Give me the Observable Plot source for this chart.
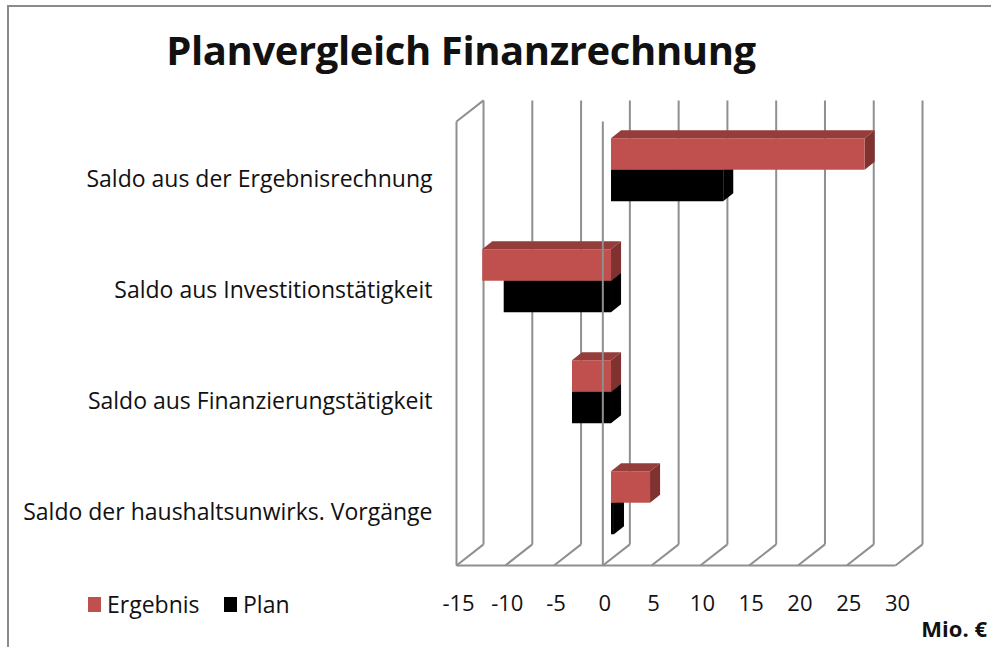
<!DOCTYPE html>
<html><head><meta charset="utf-8">
<script src="https://cdn.jsdelivr.net/npm/d3@7"></script>
<script src="https://cdn.jsdelivr.net/npm/@observablehq/plot@0.6"></script>
<style>
body{margin:0;background:#fff;}
#wrap{position:relative;width:991px;height:647px;overflow:hidden;font-family:"Open Sans",Lato,sans-serif;color:#111;}
#border{position:absolute;left:7px;top:5px;width:1100px;height:800px;border-left:2px solid #8a8a8a;border-top:2px solid #8a8a8a;}
#title{position:absolute;left:0;width:922px;top:24px;text-align:center;font-weight:bold;font-size:40px;line-height:52px;letter-spacing:-0.4px;}
#chart{position:absolute;left:0;top:0;}
.leg{position:absolute;top:589px;font-size:23px;line-height:30px;display:flex;align-items:center;}
.sw{display:inline-block;width:13px;height:15px;margin-right:6px;}
#unit{position:absolute;right:4px;top:613px;font-weight:bold;font-size:22px;}
</style></head>
<body>
<div id="wrap">
<div id="border"></div>
<div id="chart"></div>
<div id="title">Planvergleich Finanzrechnung</div>
<div class="leg" style="left:88px"><span class="sw" style="background:#C0504D"></span>Ergebnis</div>
<div class="leg" style="left:224px"><span class="sw" style="background:#000"></span>Plan</div>
<div id="unit">Mio. €</div>
</div>
<script>
// ---- data ----
const categories = [
  "Saldo aus der Ergebnisrechnung",
  "Saldo aus Investitionstätigkeit",
  "Saldo aus Finanzierungstätigkeit",
  "Saldo der haushaltsunwirks. Vorgänge"
];
const seriesNames = ["Ergebnis", "Plan"];
const ergebnis = [26.0, -13.2, -4.0, 4.0];
const plan = [11.5, -11.0, -4.0, 0.3];
const xTicks = [-15, -10, -5, 0, 5, 10, 15, 20, 25, 30];

// ---- 3D geometry (in data units) ----
const WX = 2.77, WY = 0.19;   // wall depth
const SX = 0.89, SY = 0.061;  // bar shift into depth
const BX = 1.03, BY = 0.072;  // bar depth
const H = 0.284;              // bar thickness (category units)

const palette = {
  Ergebnis: {front: "#C0504D", top: "#953D3B", side: "#7F3230"},
  Plan: {front: "#000000", top: "#000000", side: "#000000"}
};

function rowsFor(name, values) {
  return values.map((v, i) => {
    const off = name === "Ergebnis" ? -H : 0;
    const yT = i + 0.5 + off - SY, yB = yT + H;
    const x0 = Math.min(0, v) + SX, x1 = Math.max(0, v) + SX;
    return {id: name + i, v, x0, x1, yT, yB};
  });
}
function topPts(rows) {
  return rows.flatMap(r => [
    {id: r.id, ax: r.x0, ay: r.yT, bx: r.x0 + BX, by: r.yT - BY},
    {id: r.id, ax: r.x1, ay: r.yT, bx: r.x1 + BX, by: r.yT - BY}
  ]);
}
function sidePts(rows) {
  return rows.flatMap(r => [
    {id: r.id, ax: r.x1, ay: r.yT, bx: r.x1 + BX, by: r.yT - BY},
    {id: r.id, ax: r.x1, ay: r.yB, bx: r.x1 + BX, by: r.yB - BY}
  ]);
}
function barMarks(name, values) {
  const rows = rowsFor(name, values), c = palette[name];
  return [
    Plot.area(topPts(rows), {x1: "ax", y1: "ay", x2: "bx", y2: "by", z: "id", fill: c.top}),
    Plot.area(sidePts(rows), {x1: "ax", y1: "ay", x2: "bx", y2: "by", z: "id", fill: c.side}),
    Plot.rect(rows, {x1: "x0", x2: "x1", y1: "yT", y2: "yB", fill: c.front})
  ];
}

const grid = "#8f8f8f";
const xMin = xTicks[0], xMax = xTicks[xTicks.length - 1], nCat = categories.length;

const chart = Plot.plot({
  width: 991, height: 647,
  marginLeft: 456, marginRight: 96, marginTop: 121, marginBottom: 82,
  x: {domain: [xMin, xMax], range: [456, 895], axis: null},
  y: {domain: [0, nCat], range: [121, 565], axis: null},
  style: {fontFamily: "'Open Sans', Lato, sans-serif", color: "#111", background: "transparent", overflow: "visible"},
  marks: [
    // back wall verticals
    Plot.link(xTicks, {x1: d => d + WX, x2: d => d + WX, y1: () => -WY, y2: () => nCat - WY, stroke: grid, strokeWidth: 2}),
    // floor diagonals
    Plot.link(xTicks, {x1: d => d, x2: d => d + WX, y1: () => nCat, y2: () => nCat - WY, stroke: grid, strokeWidth: 2}),
    // floor front edge, left wall front edge, left wall top edge
    Plot.link([0], {x1: () => xMin, x2: () => xMax, y1: () => nCat, y2: () => nCat, stroke: grid, strokeWidth: 2}),
    Plot.link([0], {x1: () => xMin, x2: () => xMin, y1: () => 0, y2: () => nCat, stroke: grid, strokeWidth: 2}),
    Plot.link([0], {x1: () => xMin, x2: () => xMin + WX, y1: () => 0, y2: () => -WY, stroke: grid, strokeWidth: 2}),
    // bars
    ...barMarks("Plan", plan),
    ...barMarks("Ergebnis", ergebnis),
    // front zero axis
    Plot.link([0], {x1: () => 0, x2: () => 0, y1: () => 0, y2: () => nCat, stroke: grid, strokeWidth: 2}),
    // category labels
    Plot.text(categories, {x: () => xMin, y: (d, i) => i + 0.5, text: d => d, textAnchor: "end", dx: -24, dy: 3, fontSize: 23, fill: "#111"}),
    // x tick labels
    Plot.text(xTicks, {x: d => d, y: () => nCat, text: d => String(d), dy: 38, dx: 2, fontSize: 22, fill: "#111"})
  ]
});
document.getElementById("chart").appendChild(chart);
</script>
</body></html>
